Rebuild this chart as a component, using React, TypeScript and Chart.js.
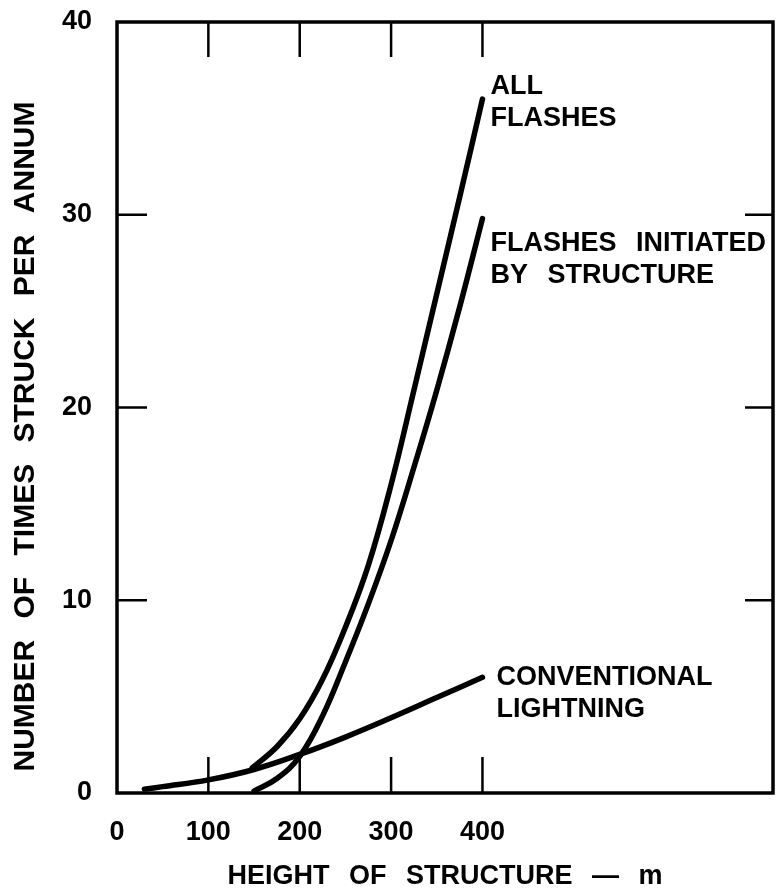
import React, { useEffect, useRef } from 'react';
import { Chart, registerables } from 'chart.js';

Chart.register(...registerables);

// ---- data ----
const heightTicks = [0, 100, 200, 300, 400];
const strikeTicks = [0, 10, 20, 30, 40];

const allFlashesX = [148, 175, 200, 225, 250, 275, 300, 325, 350, 375, 400];
const allFlashesY = [1.3, 2.4, 3.85, 5.9, 8.6, 11.8, 16.0, 20.9, 25.9, 30.9, 36.0];

const initiatedX = [150, 175, 200, 225, 250, 275, 300, 325, 350, 375, 400];
const initiatedY = [0.1, 0.75, 1.9, 4.0, 6.8, 9.8, 13.1, 16.9, 20.9, 25.2, 29.8];

const conventionalX = [30, 50, 100, 150, 200, 250, 300, 350, 400];
const conventionalY = [0.2, 0.33, 0.68, 1.22, 2.0, 2.9, 3.9, 4.95, 6.0];

const seriesLabels = [
  ['ALL', 'FLASHES'],
  ['FLASHES INITIATED', 'BY STRUCTURE'],
  ['CONVENTIONAL', 'LIGHTNING'],
];

const xTitle = 'HEIGHT OF STRUCTURE — m';
const yTitle = 'NUMBER OF TIMES STRUCK PER ANNUM';

const FONT = "'Liberation Sans', Arial, Helvetica, sans-serif";
const FS = 27;

const toPoints = (xs: number[], ys: number[]) => xs.map((x, i) => ({ x, y: ys[i] }));

const frameAndText = {
  id: 'frameAndText',
  beforeDraw(chart: any) {
    (chart.ctx as any).wordSpacing = '12px';
  },
  beforeDatasetsDraw(chart: any) {
    const { ctx, chartArea, scales } = chart;
    const { left, right, top, bottom } = chartArea;
    ctx.save();
    ctx.strokeStyle = '#000';
    ctx.lineCap = 'butt';
    ctx.lineWidth = 2.5;
    heightTicks.forEach((v) => {
      if (v === 0) return;
      const px = scales.x.getPixelForValue(v);
      ctx.beginPath();
      ctx.moveTo(px, top);
      ctx.lineTo(px, top + 35);
      ctx.moveTo(px, bottom);
      ctx.lineTo(px, bottom - 36);
      ctx.stroke();
    });
    strikeTicks.forEach((v) => {
      if (v === 0 || v === 40) return;
      const py = scales.y.getPixelForValue(v);
      ctx.beginPath();
      ctx.moveTo(left, py);
      ctx.lineTo(left + 30, py);
      ctx.moveTo(right, py);
      ctx.lineTo(right - 28, py);
      ctx.stroke();
    });
    ctx.lineWidth = 3.5;
    ctx.lineJoin = 'miter';
    ctx.strokeRect(left, top, right - left, bottom - top);
    ctx.restore();
  },
  afterDraw(chart: any) {
    const { ctx, chartArea, scales } = chart;
    ctx.save();
    ctx.fillStyle = '#000';
    ctx.textBaseline = 'middle';
    ctx.textAlign = 'center';
    // x title
    (ctx as any).wordSpacing = '12px';
    ctx.font = `bold ${FS}px ${FONT}`;
    ctx.fillText(xTitle, (chartArea.left + chartArea.right) / 2, chartArea.bottom + 84);
    // y title
    ctx.save();
    (ctx as any).wordSpacing = '13px';
    ctx.font = `bold 30px ${FONT}`;
    ctx.translate(26, (chartArea.top + chartArea.bottom) / 2 + 29);
    ctx.rotate(-Math.PI / 2);
    ctx.fillText(yTitle, 0, 0);
    ctx.restore();
    // series labels, anchored at each series' last point
    (ctx as any).wordSpacing = '12px';
    ctx.font = `bold ${FS}px ${FONT}`;
    ctx.textAlign = 'left';
    const ends = [
      { x: allFlashesX[allFlashesX.length - 1], y: allFlashesY[allFlashesY.length - 1], dx: 8, dy: -13 },
      { x: initiatedX[initiatedX.length - 1], y: initiatedY[initiatedY.length - 1], dx: 8, dy: 25 },
      { x: conventionalX[conventionalX.length - 1], y: conventionalY[conventionalY.length - 1], dx: 14, dy: 0 },
    ];
    ends.forEach((e, i) => {
      const px = scales.x.getPixelForValue(e.x) + e.dx;
      const py = scales.y.getPixelForValue(e.y) + e.dy;
      seriesLabels[i].forEach((line, j) => {
        ctx.fillText(line, px, py + j * 32);
      });
    });
    ctx.restore();
  },
};

export default function App() {
  const ref = useRef<HTMLCanvasElement | null>(null);
  useEffect(() => {
    if (!ref.current) return;
    const lineStyle = {
      borderColor: '#000',
      borderWidth: 5.5,
      pointRadius: 0,
      fill: false,
      tension: 0.4,
      borderCapStyle: 'round' as const,
      borderJoinStyle: 'round' as const,
    };
    const chart = new Chart(ref.current, {
      type: 'line',
      data: {
        datasets: [
          { label: 'All flashes', data: toPoints(allFlashesX, allFlashesY), ...lineStyle },
          { label: 'Flashes initiated by structure', data: toPoints(initiatedX, initiatedY), ...lineStyle },
          { label: 'Conventional lightning', data: toPoints(conventionalX, conventionalY), ...lineStyle },
        ],
      },
      options: {
        animation: false,
        responsive: true,
        maintainAspectRatio: false,
        layout: { padding: { top: 22, right: 5, left: 0, bottom: 0 } },
        plugins: { legend: { display: false }, tooltip: { enabled: false } },
        scales: {
          x: {
            type: 'linear',
            min: 0,
            max: 718,
            grid: { display: false, drawTicks: false },
            border: { display: false },
            afterBuildTicks: (scale: any) => {
              scale.ticks = heightTicks.map((v) => ({ value: v }));
            },
            afterFit: (scale: any) => {
              scale.height = 102;
              scale.paddingLeft = 0;
              scale.paddingRight = 0;
            },
            ticks: {
              color: '#000',
              padding: 23,
              maxRotation: 0,
              autoSkip: false,
              font: { family: FONT, size: FS, weight: 'bold' },
            },
          },
          y: {
            type: 'linear',
            min: 0,
            max: 40,
            grid: { display: false, drawTicks: false },
            border: { display: false },
            afterBuildTicks: (scale: any) => {
              scale.ticks = strikeTicks.map((v) => ({ value: v }));
            },
            afterFit: (scale: any) => {
              scale.width = 117;
              scale.paddingTop = 0;
              scale.paddingBottom = 0;
            },
            ticks: {
              color: '#000',
              padding: 25,
              font: { family: FONT, size: FS, weight: 'bold' },
            },
          },
        },
      },
      plugins: [frameAndText],
    });
    return () => chart.destroy();
  }, []);
  return (
    <div style={{ position: 'absolute', left: 0, top: 0, width: 778, height: 895, background: '#fff' }}>
      <canvas ref={ref} />
    </div>
  );
}
